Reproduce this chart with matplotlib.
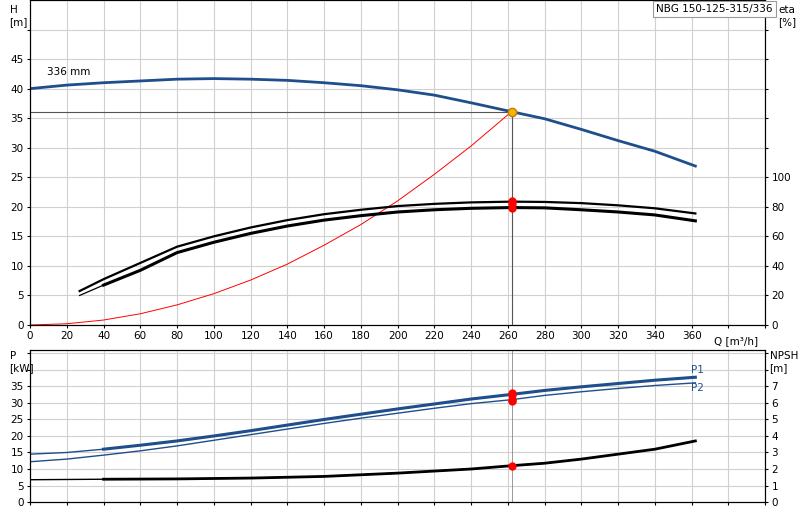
import matplotlib
matplotlib.use("Agg")
import matplotlib.pyplot as plt

q_h = [0, 20, 40, 60, 80, 100, 120, 140, 160, 180, 200, 220, 240, 262, 280, 300, 320, 340, 362]
h = [40.0, 40.6, 41.0, 41.3, 41.6, 41.7, 41.6, 41.4, 41.0, 40.5, 39.8, 38.9, 37.6, 36.1, 34.9, 33.1, 31.2, 29.4, 26.9]
q_e = [27, 40, 60, 80, 100, 120, 140, 160, 180, 200, 220, 240, 262, 280, 300, 320, 340, 362]
eta1 = [23, 31, 42, 53, 60, 66, 71, 75, 78, 80.5, 82, 83, 83.5, 83.3, 82.5, 81, 79, 75.5]
eta2 = [20, 27, 37, 49, 56, 62, 67, 71, 74, 76.5, 78, 79, 79.5, 79.3, 78, 76.5, 74.5, 70.5]
q_s = [0, 20, 40, 60, 80, 100, 120, 140, 160, 180, 200, 220, 240, 262]
h_s = [0, 0.21, 0.84, 1.9, 3.4, 5.3, 7.6, 10.3, 13.5, 17.0, 21.0, 25.5, 30.3, 36.1]
q_p = [0, 20, 40, 60, 80, 100, 120, 140, 160, 180, 200, 220, 240, 262, 280, 300, 320, 340, 362]
p1 = [14.5, 15.0, 16.0, 17.2, 18.5, 20.0, 21.6, 23.3, 25.0, 26.6, 28.2, 29.7, 31.2, 32.6, 33.8, 34.9, 35.9, 36.9, 37.8]
p2 = [12.2, 13.0, 14.2, 15.5, 17.0, 18.7, 20.4, 22.1, 23.8, 25.4, 26.9, 28.4, 29.8, 31.0, 32.3, 33.4, 34.4, 35.3, 36.1]
q_n = [0, 40, 80, 120, 160, 200, 240, 262, 280, 300, 320, 340, 362]
npsh = [1.35, 1.38, 1.4, 1.45, 1.55, 1.75, 2.0, 2.2, 2.35, 2.6, 2.9, 3.2, 3.7]
q_op, h_op = 262, 36.1
eta_op = [84, 82, 79.5]
p_op = [33.0, 32.4, 31.0, 30.5]
npsh_op = 2.2
x_ticks = list(range(0, 361, 20))

blue = "#1f4e8c"
fs = 7.5
fig = plt.figure(figsize=(8, 5.2), dpi=100)
ax = fig.add_axes([0.0375, 0.375, 0.919, 0.625])
ax.set_xlim(0, 400); ax.set_ylim(0, 55)
ax.set_xticks(range(0, 401, 20)); ax.set_xticklabels([str(t) if t in x_ticks else "" for t in range(0, 401, 20)], fontsize=fs)
ax.set_yticks(range(0, 55, 5)); ax.set_yticklabels([str(t) if t <= 45 else "" for t in range(0, 55, 5)], fontsize=fs)
ax.grid(True, color="#d0d0d0", lw=0.8)
ax.tick_params(length=2.5, pad=2)
ax.text(384, -1.9, "Q [m³/h]", fontsize=fs, ha="center", va="top")
ax.plot(q_h, h, color=blue, lw=2, zorder=3)
ax.text(9, 42.3, "336 mm", fontsize=fs)
ax.plot(q_s, h_s, color="red", lw=0.7, zorder=2)
ax.plot([0, q_op], [h_op, h_op], color="#555555", lw=0.8)
ax.plot([q_op, q_op], [0, h_op], color="#555555", lw=0.8)
ax.plot(q_op, h_op, 'o', color="#f5b400", mec="#c08000", ms=6, zorder=5)
ax2 = ax.twinx()
ax2.set_ylim(0, 220)
ax2.set_yticks(range(0, 220, 20)); ax2.set_yticklabels([str(t) if t <= 100 else "" for t in range(0, 220, 20)], fontsize=fs)
ax2.tick_params(length=2.5, pad=2)
ax2.plot(q_e, eta1, color="black", lw=1.6)
ax2.plot(q_e, eta2, color="black", lw=0.9)
ax2.plot(q_e[1:], eta2[1:], color="black", lw=2.2)
ax2.plot([q_op] * 3, eta_op, 'o', color="red", ms=5, zorder=5)
fig.text(0.012, 0.99, "H\n[m]", fontsize=fs, ha="left", va="top", linespacing=1.2)
fig.text(0.973, 0.99, "eta\n[%]", fontsize=fs, ha="left", va="top", linespacing=1.2)
fig.text(0.82, 0.983, "NBG 150-125-315/336", fontsize=fs, ha="left", va="center",
         bbox=dict(boxstyle="square,pad=0.3", fc="white", ec="#999999", lw=0.8))

bx = fig.add_axes([0.0375, 0.0346, 0.919, 0.292])
bx.set_xlim(0, 400); bx.set_ylim(0, 46)
bx.set_xticks(range(0, 401, 20)); bx.set_xticklabels([])
bx.set_yticks(range(0, 46, 5)); bx.set_yticklabels([str(t) if t <= 35 else "" for t in range(0, 46, 5)], fontsize=fs)
bx.grid(True, color="#d0d0d0", lw=0.8)
bx.tick_params(length=2.5, pad=2)
bx.plot(q_p, p1, color=blue, lw=1)
bx.plot(q_p[2:], p1[2:], color=blue, lw=2.2)
bx.plot(q_p, p2, color=blue, lw=1)
bx.plot([q_op, q_op], [0, 46], color="#888888", lw=0.6)
bx.plot([q_op] * 4, p_op, 'o', color="red", ms=5, zorder=5)
bx.text(363, 39.0, "P1", color=blue, fontsize=fs, ha="center")
bx.text(363, 33.6, "P2", color=blue, fontsize=fs, ha="center")
bx2 = bx.twinx()
bx2.set_ylim(0, 9.2)
bx2.set_yticks(range(0, 10)); bx2.set_yticklabels([str(t) if t <= 7 else "" for t in range(0, 10)], fontsize=fs)
bx2.tick_params(length=2.5, pad=2)
bx2.plot(q_n, npsh, color="black", lw=1)
bx2.plot(q_n[1:], npsh[1:], color="black", lw=2)
bx2.plot(q_op, npsh_op, 'o', color="red", ms=5, zorder=5)
fig.text(0.012, 0.325, "P\n[kW]", fontsize=fs, ha="left", va="top", linespacing=1.2)
fig.text(0.962, 0.325, "NPSH\n[m]", fontsize=fs, ha="left", va="top", linespacing=1.2)
fig.savefig("out.png", dpi=100)
